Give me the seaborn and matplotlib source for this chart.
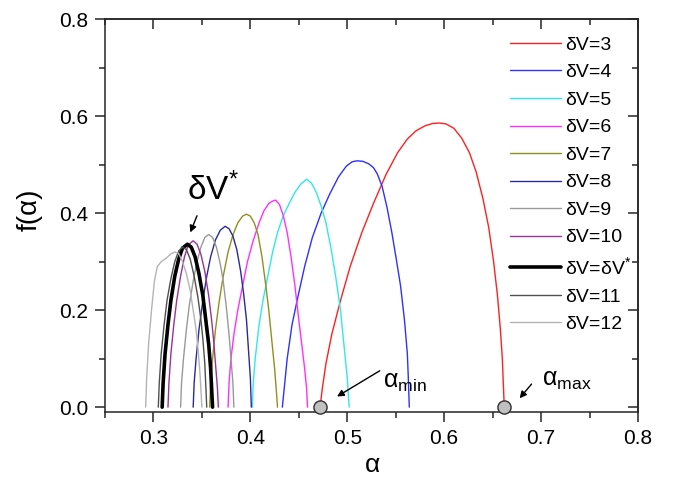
import numpy as np
import pandas as pd
import matplotlib
matplotlib.use('Agg')
import matplotlib.pyplot as plt
from matplotlib.ticker import MultipleLocator
import seaborn as sns

sns.set_style('ticks')
plt.rcParams['font.family'] = ['Liberation Sans', 'DejaVu Sans']
plt.rcParams['mathtext.fontset'] = 'custom'
plt.rcParams['mathtext.rm'] = 'Liberation Sans'
plt.rcParams['mathtext.it'] = 'Liberation Sans:italic'
plt.rcParams['text.color'] = 'black'
plt.rcParams['axes.labelcolor'] = 'black'

# f(alpha) spectra
a3 = [0.472, 0.474, 0.478, 0.484, 0.493, 0.503, 0.515, 0.527, 0.540, 0.552, 0.562, 0.571, 0.580, 0.588,
      0.595, 0.602, 0.610, 0.618, 0.626, 0.633, 0.640, 0.646, 0.651, 0.655, 0.658, 0.660, 0.661, 0.662]
f3 = [0.0, 0.035, 0.09, 0.15, 0.22, 0.29, 0.36, 0.42, 0.48, 0.525, 0.553, 0.570, 0.580, 0.585,
      0.586, 0.584, 0.575, 0.555, 0.525, 0.485, 0.43, 0.37, 0.30, 0.23, 0.16, 0.10, 0.05, 0.0]
a4 = [0.433, 0.435, 0.438, 0.443, 0.449, 0.456, 0.464, 0.473, 0.482, 0.491, 0.499, 0.505, 0.510,
      0.516, 0.522, 0.527, 0.531, 0.536, 0.541, 0.546, 0.551, 0.555, 0.559, 0.562, 0.563, 0.564]
f4 = [0.0, 0.04, 0.10, 0.17, 0.227, 0.29, 0.35, 0.40, 0.44, 0.475, 0.497, 0.506, 0.508,
      0.507, 0.502, 0.494, 0.481, 0.455, 0.412, 0.36, 0.30, 0.25, 0.18, 0.11, 0.06, 0.0]
a5 = [0.402, 0.403, 0.405, 0.409, 0.413, 0.418, 0.423, 0.428, 0.434, 0.440, 0.446, 0.452, 0.458,
      0.463, 0.468, 0.473, 0.478, 0.483, 0.488, 0.493, 0.497, 0.500, 0.502]
f5 = [0.0, 0.05, 0.10, 0.17, 0.22, 0.27, 0.32, 0.36, 0.395, 0.42, 0.443, 0.46, 0.470,
      0.462, 0.443, 0.415, 0.38, 0.33, 0.27, 0.20, 0.12, 0.06, 0.0]
a6 = [0.377, 0.378, 0.380, 0.383, 0.387, 0.392, 0.397, 0.403, 0.409, 0.414, 0.419, 0.423, 0.426,
      0.430, 0.434, 0.438, 0.442, 0.446, 0.450, 0.453, 0.456, 0.458, 0.459]
f6 = [0.0, 0.05, 0.10, 0.15, 0.20, 0.25, 0.30, 0.344, 0.38, 0.405, 0.42, 0.425, 0.427,
      0.418, 0.395, 0.36, 0.31, 0.25, 0.18, 0.13, 0.08, 0.04, 0.0]
a7 = [0.358, 0.359, 0.361, 0.364, 0.368, 0.372, 0.377, 0.382, 0.387, 0.392, 0.396,
      0.400, 0.404, 0.408, 0.412, 0.416, 0.419, 0.422, 0.425, 0.427, 0.428]
f7 = [0.0, 0.05, 0.10, 0.16, 0.22, 0.27, 0.32, 0.355, 0.38, 0.394, 0.398,
      0.394, 0.38, 0.355, 0.31, 0.25, 0.20, 0.14, 0.08, 0.03, 0.0]
a8 = [0.341, 0.342, 0.344, 0.347, 0.351, 0.355, 0.359, 0.364, 0.369, 0.374,
      0.378, 0.382, 0.386, 0.390, 0.393, 0.396, 0.398, 0.400, 0.401]
f8 = [0.0, 0.05, 0.10, 0.16, 0.22, 0.27, 0.31, 0.345, 0.365, 0.373,
      0.368, 0.353, 0.325, 0.28, 0.235, 0.18, 0.12, 0.06, 0.0]
a9 = [0.328, 0.329, 0.331, 0.334, 0.337, 0.341, 0.345, 0.349, 0.353, 0.357,
      0.361, 0.365, 0.369, 0.372, 0.375, 0.378, 0.380, 0.382, 0.383]
f9 = [0.0, 0.05, 0.10, 0.16, 0.21, 0.26, 0.30, 0.33, 0.35, 0.356,
      0.35, 0.33, 0.295, 0.26, 0.21, 0.15, 0.10, 0.05, 0.0]
a10 = [0.315, 0.316, 0.318, 0.321, 0.324, 0.328, 0.332, 0.336, 0.341,
       0.345, 0.349, 0.353, 0.357, 0.360, 0.362, 0.364, 0.366, 0.367]
f10 = [0.0, 0.05, 0.11, 0.17, 0.22, 0.27, 0.31, 0.335, 0.343,
       0.336, 0.315, 0.28, 0.23, 0.18, 0.14, 0.09, 0.04, 0.0]
a_star = [0.309, 0.310, 0.312, 0.315, 0.318, 0.322, 0.326, 0.330, 0.335,
          0.339, 0.343, 0.347, 0.351, 0.354, 0.357, 0.359, 0.360, 0.361]
f_star = [0.0, 0.05, 0.11, 0.17, 0.22, 0.27, 0.305, 0.328, 0.336,
          0.33, 0.31, 0.275, 0.23, 0.18, 0.13, 0.08, 0.04, 0.0]
a11 = [0.305, 0.306, 0.308, 0.311, 0.314, 0.318, 0.322, 0.326, 0.330,
       0.334, 0.338, 0.342, 0.346, 0.349, 0.351, 0.353, 0.354, 0.355]
f11 = [0.0, 0.05, 0.11, 0.17, 0.22, 0.265, 0.30, 0.322, 0.33,
       0.325, 0.305, 0.27, 0.225, 0.18, 0.14, 0.09, 0.045, 0.0]
a12 = [0.292, 0.293, 0.295, 0.298, 0.301, 0.304, 0.308, 0.313, 0.318, 0.322,
       0.326, 0.330, 0.334, 0.338, 0.341, 0.344, 0.346, 0.348, 0.349, 0.350]
f12 = [0.0, 0.06, 0.13, 0.20, 0.26, 0.29, 0.30, 0.307, 0.316, 0.32,
       0.317, 0.30, 0.275, 0.24, 0.20, 0.16, 0.12, 0.07, 0.035, 0.0]

labels = ['δV=3', 'δV=4', 'δV=5', 'δV=6', 'δV=7', 'δV=8', 'δV=9', 'δV=10',
          'δV=δV$^{*}$', 'δV=11', 'δV=12']
alphas = [a3, a4, a5, a6, a7, a8, a9, a10, a_star, a11, a12]
fvals = [f3, f4, f5, f6, f7, f8, f9, f10, f_star, f11, f12]

end_alpha = [0.472, 0.662]
end_f = [0.0, 0.0]

colors = ['#ff2020', '#3030ff', '#30e8e8', '#ff30ff', '#909020', '#2a2a99',
          '#999999', '#993399', '#000000', '#505050', '#b4b4b4']
widths = [1.0] * 8 + [2.6] + [1.0, 1.0]
axis_col = '#262626'

fig = plt.figure(figsize=(6.73, 4.93), dpi=100)
ax = fig.add_axes([0.156, 0.164, 0.792, 0.797])

for lab, a, f, c, w in zip(labels, alphas, fvals, colors, widths):
    sns.lineplot(x=a, y=f, sort=False, estimator=None, color=c, linewidth=w,
                 label=lab, ax=ax)

sns.scatterplot(x=end_alpha, y=end_f, s=90, color='#c0c0c0', edgecolor='#303030',
                linewidth=1.0, zorder=5, clip_on=False, ax=ax, legend=False)

ax.set_xlim(0.25, 0.8)
ax.set_ylim(-0.0103, 0.8)
ax.xaxis.set_major_locator(MultipleLocator(0.1))
ax.xaxis.set_minor_locator(MultipleLocator(0.05))
ax.yaxis.set_major_locator(MultipleLocator(0.2))
ax.yaxis.set_minor_locator(MultipleLocator(0.1))
ax.tick_params(which='major', direction='out', length=7, width=1.1, labelsize=15,
               color=axis_col, labelcolor='black', pad=5)
ax.tick_params(which='minor', direction='out', length=4, width=1.1, color=axis_col)
for s in ax.spines.values():
    s.set_linewidth(1.1)
    s.set_color(axis_col)

top = ax.secondary_xaxis('top')
top.xaxis.set_major_locator(MultipleLocator(0.1))
top.xaxis.set_minor_locator(MultipleLocator(0.05))
top.tick_params(which='major', direction='in', length=7, width=1.1, labeltop=False, color=axis_col)
top.tick_params(which='minor', direction='in', length=4, width=1.1, color=axis_col)
right = ax.secondary_yaxis('right')
right.yaxis.set_major_locator(MultipleLocator(0.2))
right.yaxis.set_minor_locator(MultipleLocator(0.1))
right.tick_params(which='major', direction='in', length=7, width=1.1, labelright=False, color=axis_col)
right.tick_params(which='minor', direction='in', length=4, width=1.1, color=axis_col)
for sa in (top, right):
    for s in sa.spines.values():
        s.set_linewidth(1.1)
        s.set_color(axis_col)

ax.set_xlabel('α', fontsize=19)
ax.set_ylabel('f(α)', fontsize=20)
ax.xaxis.set_label_coords(0.501, -0.105)
ax.yaxis.set_label_coords(-0.117, 0.514)

ax.legend(loc='upper left', bbox_to_anchor=(0.76, 0.957), frameon=False,
          fontsize=14, handlelength=2.6, handletextpad=0.25, labelspacing=0.51,
          borderpad=0, borderaxespad=0)

arrow = dict(arrowstyle='-|>', color='black', lw=1.0, mutation_scale=10)
ax.annotate('', xy=(0.487, 0.019), xytext=(0.536, 0.078), arrowprops=arrow)
ax.annotate('', xy=(0.676, 0.014), xytext=(0.692, 0.052), arrowprops=arrow)
ax.annotate('', xy=(0.337, 0.355), xytext=(0.346, 0.40), arrowprops=arrow)
ax.text(0.537, 0.040, 'α$_{\\mathrm{min}}$', fontsize=18, ha='left', va='baseline')
ax.text(0.701, 0.045, 'α$_{\\mathrm{max}}$', fontsize=18, ha='left', va='baseline')
ax.text(0.335, 0.427, 'δV$^{*}$', fontsize=24, ha='left', va='baseline')

fig.savefig('out.png', dpi=100)
